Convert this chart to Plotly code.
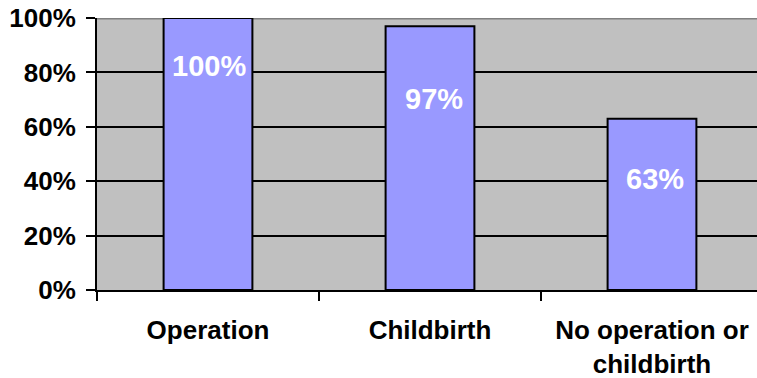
import plotly.graph_objects as go

# Share of respondents per group
categories = ["Operation", "Childbirth", "No operation or<br>childbirth"]
shares = [1.00, 0.97, 0.63]
y_tick_values = [0, 0.2, 0.4, 0.6, 0.8, 1.0]
y_tick_labels = ["0%", "20%", "40%", "60%", "80%", "100%"]

# how far below each bar top its value label sits (px), plus a small sideways nudge
label_drop_px = [48, 73, 60]
label_nudge_px = [1, 4, 3]

FONT = "Liberation Sans, Arial, sans-serif"

fig = go.Figure()
fig.add_trace(go.Bar(
    x=categories,
    y=shares,
    width=0.4,
    marker=dict(color="#9999FF", line=dict(color="black", width=2)),
    hoverinfo="skip",
))

for cat, val, drop, nudge in zip(categories, shares, label_drop_px, label_nudge_px):
    fig.add_annotation(
        x=cat, y=val, text=f"{round(val * 100)}%",
        showarrow=False, yanchor="middle", xanchor="center",
        yshift=-drop, xshift=nudge,
        font=dict(family=FONT, size=29, color="white", weight="bold"),
    )

# grey top border of the plot area, drawn above the gridlines but below the bars
fig.add_shape(type="line", xref="paper", yref="y", x0=0, x1=1, y0=1, y1=1,
              line=dict(color="#808080", width=3), layer="between")

fig.update_layout(
    width=757, height=378,
    margin=dict(l=97, r=0, t=18, b=88),
    paper_bgcolor="white",
    plot_bgcolor="#C0C0C0",
    showlegend=False,
    font=dict(family=FONT, color="black"),
)
fig.update_xaxes(
    type="category",
    range=[-0.5, 2.473],
    showline=True, linecolor="black", linewidth=2,
    ticks="outside", tickson="boundaries", ticklen=9, tickwidth=2, tickcolor="black",
    showgrid=False,
    tickfont=dict(family=FONT, size=26, color="black", weight="bold"),
    ticklabelstandoff=16,
)
fig.update_yaxes(
    range=[0, 1],
    tickvals=y_tick_values, ticktext=y_tick_labels,
    showline=True, linecolor="black", linewidth=2,
    ticks="outside", ticklen=9, tickwidth=2, tickcolor="black",
    showgrid=True, gridcolor="black", gridwidth=2,
    zeroline=False,
    tickfont=dict(family=FONT, size=26, color="black", weight="bold"),
    ticklabelstandoff=5,
)

fig.write_html("out.html")
